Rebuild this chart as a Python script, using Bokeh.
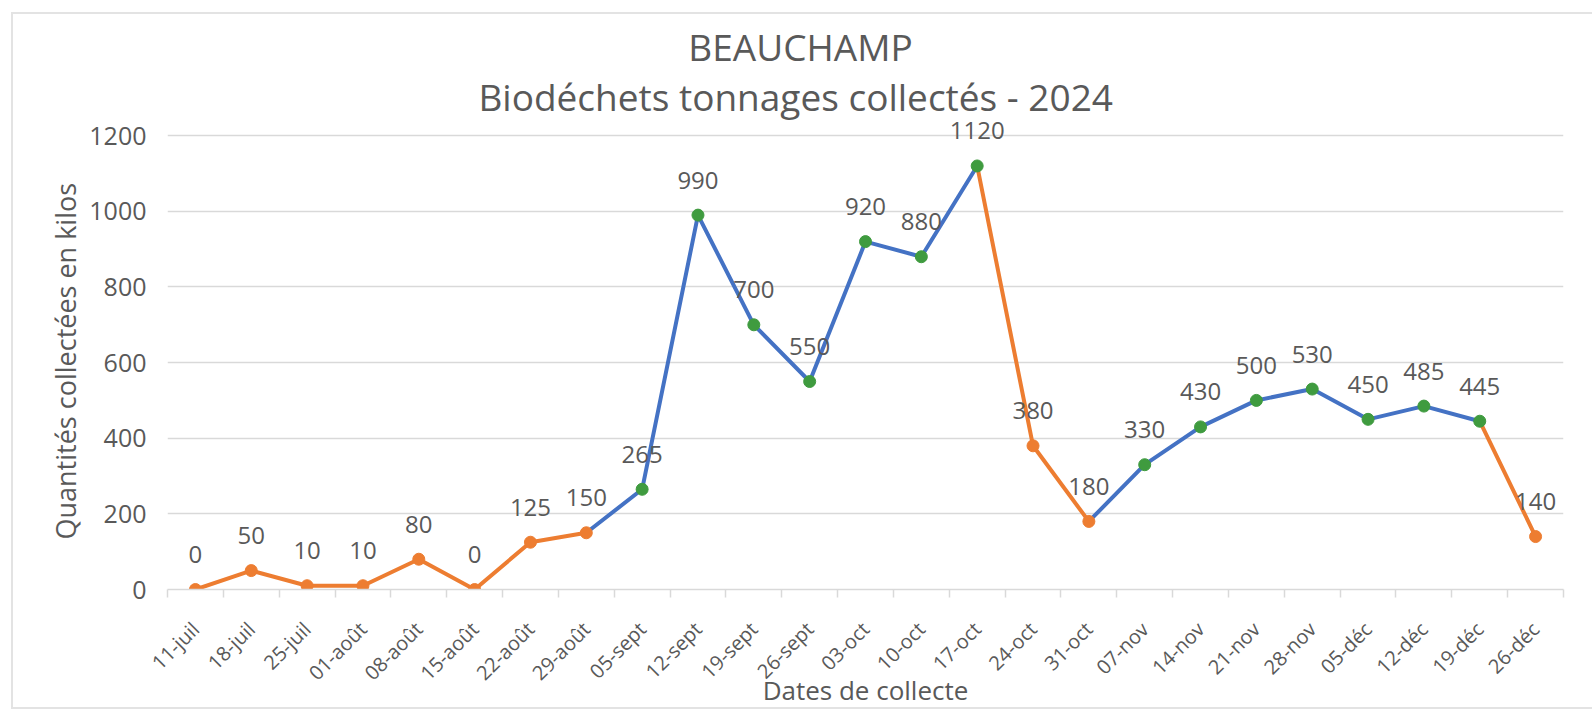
import math
from bokeh.plotting import figure
from bokeh.models import (ColumnDataSource, LabelSet, Label, FixedTicker, Range1d, Title)
from bokeh.core.properties import value
from bokeh.embed import file_html
from bokeh.resources import INLINE

dates = ["11-juil", "18-juil", "25-juil", "01-août", "08-août", "15-août", "22-août", "29-août",
         "05-sept", "12-sept", "19-sept", "26-sept", "03-oct", "10-oct", "17-oct", "24-oct",
         "31-oct", "07-nov", "14-nov", "21-nov", "28-nov", "05-déc", "12-déc", "19-déc", "26-déc"]
kilos = [0, 50, 10, 10, 80, 0, 125, 150, 265, 990, 700, 550, 920, 880, 1120, 380, 180,
         330, 430, 500, 530, 450, 485, 445, 140]
# point group: "b" = orange points, "h" = green points (blue line)
groups = ["b", "b", "b", "b", "b", "b", "b", "b", "h", "h", "h", "h", "h", "h", "h", "b", "b",
          "h", "h", "h", "h", "h", "h", "h", "b"]
y_ticks = [0, 200, 400, 600, 800, 1000, 1200]

title1 = "BEAUCHAMP"
title2 = "Biodéchets tonnages collectés -  2024"
y_label = "Quantités collectées  en kilos"
x_label = "Dates de collecte"

ORANGE = "#ED7D31"
BLUE = "#4472C4"
GREEN = "#3f9b3f"
GRAY = "#595959"
GRID = "#d9d9d9"
FONT = "Open Sans"

# layout (pixels)
FRAME_H = 574          # frame from canvas top to the x axis
PX_PER_UNIT = 453 / 1200
y_top = FRAME_H / PX_PER_UNIT

n = len(dates)
xs = list(range(n))
line_col = {"b": ORANGE, "h": BLUE}
mark_col = {"b": ORANGE, "h": GREEN}

seg = ColumnDataSource(dict(
    x0=xs[:-1], y0=kilos[:-1], x1=xs[1:], y1=kilos[1:],
    c=[line_col[g] for g in groups[1:]],
))
pts = ColumnDataSource(dict(
    x=xs, y=kilos, c=[mark_col[g] for g in groups], t=[str(v) for v in kilos],
))

p = figure(width=1581, height=697, output_backend="svg", toolbar_location=None,
           x_range=Range1d(-0.5, n - 0.5), y_range=Range1d(0, y_top),
           min_border_left=154, min_border_right=31, min_border_top=0, min_border_bottom=119)
p.margin = (12, 0, 0, 11)
p.outline_line_color = None
p.background_fill_color = "white"
p.border_fill_color = "white"
p.styles = {"border-left": "2px solid #e3e3e3", "border-top": "2px solid #e3e3e3",
            "border-bottom": "2px solid #e3e3e3", "box-sizing": "border-box"}

p.segment("x0", "y0", "x1", "y1", source=seg, line_color="c", line_width=4, line_cap="round")
p.scatter("x", "y", source=pts, size=12, fill_color="c", line_color="c")

labels = LabelSet(x="x", y="y", text="t", source=pts, y_offset=35, text_align="center",
                  text_baseline="middle", text_font=value(FONT), text_font_size="24px",
                  text_color=GRAY)
p.add_layout(labels)

# axes
xa = p.xaxis[0]
xa.ticker = FixedTicker(ticks=xs, minor_ticks=[i - 0.5 for i in range(n + 1)])
xa.major_label_overrides = {i: d for i, d in enumerate(dates)}
xa.major_label_orientation = math.pi / 4
xa.major_tick_line_color = None
xa.major_tick_out = 0
xa.major_tick_in = 0
xa.minor_tick_line_color = GRID
xa.minor_tick_line_width = 1.5
xa.minor_tick_out = 8
xa.minor_tick_in = 0
xa.axis_line_color = GRID
xa.axis_line_width = 1.5
xa.major_label_text_font = FONT
xa.major_label_text_font_size = "20px"
xa.major_label_text_color = GRAY
xa.major_label_standoff = 28
xa.axis_label = x_label
xa.axis_label_text_font = FONT
xa.axis_label_text_font_size = "26px"
xa.axis_label_text_font_style = "normal"
xa.axis_label_text_color = GRAY
xa.axis_label_standoff = -26

ya = p.yaxis[0]
ya.ticker = FixedTicker(ticks=y_ticks)
ya.axis_line_color = None
ya.major_tick_line_color = None
ya.minor_tick_line_color = None
ya.major_label_text_font = FONT
ya.major_label_text_font_size = "25px"
ya.major_label_text_color = GRAY
ya.major_label_standoff = 15

# vertical axis title, placed along the plotted 0..1200 band
p.add_layout(Title(text=y_label, align="left", offset=50, standoff=6, text_font=FONT,
                   text_font_size="27px", text_font_style="normal", text_color=GRAY), "left")

p.xgrid.grid_line_color = None
p.ygrid.grid_line_color = GRID
p.ygrid.grid_line_width = 1.5

for txt, yy in ((title1, 543), (title2, 493)):
    p.add_layout(Label(x=633, y=yy, x_units="screen", y_units="screen", text=txt,
                       text_align="center", text_baseline="middle", text_font=FONT,
                       text_font_size="37px", text_color=GRAY))

open("out.html", "w").write(file_html(p, INLINE))
